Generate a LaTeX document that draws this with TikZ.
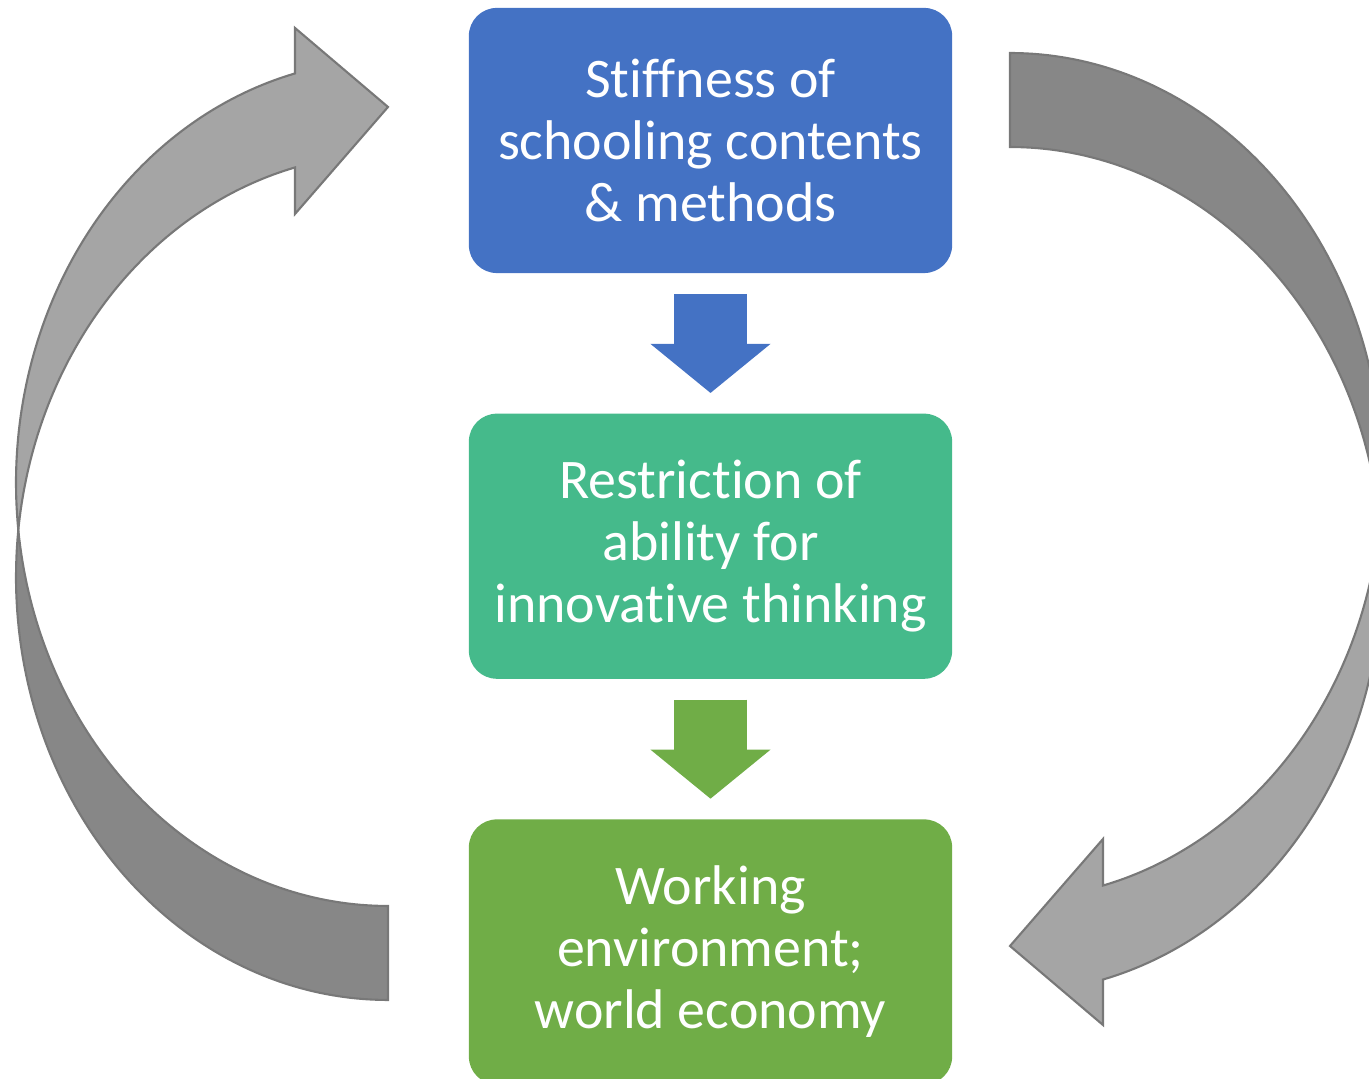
\documentclass[tikz,border=0pt]{standalone}
\usepackage{fontspec}
\newfontfamily\boxfont{Carlito}[Ligatures=NoCommon]
\usepackage{tikz}
\usetikzlibrary{arrows.meta,shapes}
\definecolor{schoolblue}{RGB}{68,114,196}
\definecolor{thinkteal}{RGB}{69,186,139}
\definecolor{workgreen}{RGB}{112,173,71}
\definecolor{looplight}{RGB}{165,165,165}
\definecolor{loopdark}{RGB}{135,135,135}
\definecolor{loopline}{RGB}{120,120,120}
\tikzstyle{block} = [rectangle, rounded corners=0.28cm, minimum width=4.83cm, minimum height=2.65cm, align=center, text=white, font=\boxfont\fontsize{15.9}{17.6}\selectfont]
\tikzstyle{downarrow} = [line width=7.2mm, -{Triangle[length=4.9mm, width=12mm, line width=0pt]}]
\tikzstyle{loopfront} = [fill=looplight, draw=loopline, line width=0.6pt, line join=miter]
\tikzstyle{loopback} = [fill=loopdark, draw=loopline, line width=0.6pt]

\begin{document}
\begin{tikzpicture}[x=0.01cm, y=0.01cm, node distance=4.055cm, samples=80]
    \useasboundingbox (0,0) rectangle (1369,1079);
    \clip (0,0) rectangle (1369,1079);

    % Curved loop arrows (the right one is the left one turned round)
    \foreach \ang in {0,180} {
    \begin{scope}[rotate around={\ang:(699,552.5)}]
        \filldraw[loopback] plot[domain=270:173.62, variable=\t] ({388+372*cos(\t)}, {502+423*sin(\t)})
            -- plot[domain=186.38:270, variable=\t] ({388+372*cos(\t)}, {596+423*sin(\t)}) -- cycle;
        \filldraw[loopfront] plot[domain=104.48:186.38, variable=\t] ({388+372*cos(\t)}, {596+423*sin(\t)})
            -- plot[domain=173.62:104.48, variable=\t] ({388+372*cos(\t)}, {502+423*sin(\t)})
            -- (295,865) -- (388,972) -- (295,1051) -- cycle;
    \end{scope}
    }

    % Place nodes
    \node [block, fill=schoolblue] (stiff) at (710.5,938.5) {Stiffness of\\schooling contents\\\& methods};
    \node [block, fill=thinkteal, below of = stiff] (restrict) {Restriction of\\ability for\\innovative thinking};
    \node [block, fill=workgreen, below of = restrict] (working) {Working\\environment;\\world economy};

    % Draw edges
    \draw [downarrow, schoolblue] ([yshift=-2mm]stiff.south) -- ([yshift=2mm]restrict.north);
    \draw [downarrow, workgreen] ([yshift=-2mm]restrict.south) -- ([yshift=2mm]working.north);
\end{tikzpicture}
\end{document}
